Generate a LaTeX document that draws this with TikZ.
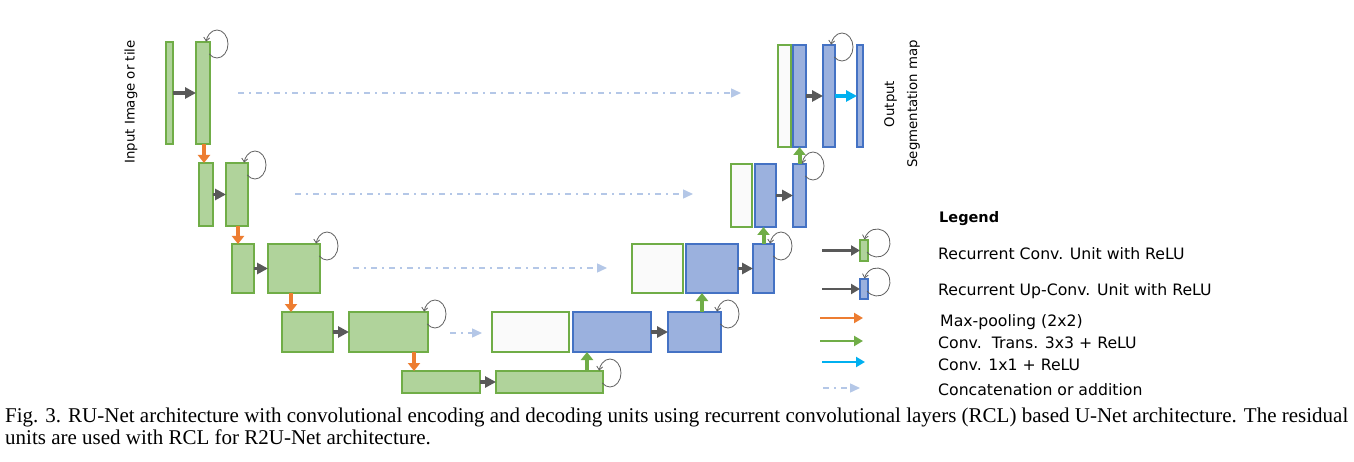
\documentclass[tikz,border=0pt]{standalone}
\usepackage{fontspec}
\setmainfont{DejaVu Sans}
\newfontfamily\capfont{Liberation Serif}
\usetikzlibrary{arrows.meta,fit,calc}
\definecolor{gD}{HTML}{70AD47}
\definecolor{gL}{HTML}{B0D39B}
\definecolor{bD}{HTML}{4472C4}
\definecolor{bL}{HTML}{9BB1DE}
\definecolor{wF}{HTML}{FAFAFA}
\definecolor{aG}{HTML}{595959}
\definecolor{aO}{HTML}{ED7D31}
\definecolor{aC}{HTML}{00B0F0}
\definecolor{aS}{HTML}{B4C7E7}
\definecolor{lpC}{HTML}{606060}
\newcommand\rcl[1]{\draw[loopst] ([shift={(7,-2)}]#1.north east) ++(225:11 and 14) arc[start angle=225,end angle=530,x radius=11,y radius=14];}
\newcommand\rclbig[1]{\draw[loopst] ([shift={(9,-3)}]#1.north east) ++(220:13 and 14) arc[start angle=220,end angle=525,x radius=13,y radius=14];}
\begin{document}
\begin{tikzpicture}[x=1pt,y=1pt,
 box/.style={inner sep=0pt, outer sep=0pt, line width=1.3pt},
 gbox/.style={box, draw=gD, fill=gL},
 bbox/.style={box, draw=bD, fill=bL},
 wbox/.style={box, draw=gD, fill=wF},
 garr/.style={draw=aG, line width=3.4pt, -{Triangle[length=11pt,width=11pt]}},
 oarr/.style={draw=aO, line width=4pt, -{Triangle[length=8pt,width=12pt]}},
 uarr/.style={draw=gD, line width=4pt, -{Triangle[length=8pt,width=12pt]}},
 carr/.style={draw=aC, line width=3.4pt, -{Triangle[length=11pt,width=11pt]}},
 sarr/.style={draw=aS, line width=1.4pt, dash pattern=on 6pt off 5pt on 2pt off 5pt, -{Triangle[length=10pt,width=9pt]}},
 lgarr/.style={line width=2.8pt, -{Triangle[length=9pt,width=10pt]}},
 loopst/.style={draw=lpC, line width=0.8pt, -{Straight Barb[length=3.5pt,width=6pt]}},
 lbl/.style={font=\fontsize{15.7}{19}\selectfont, inner sep=0pt, anchor=base west},
 rlbl/.style={font=\fontsize{13.3}{23}\selectfont, inner sep=0pt, rotate=90, align=center},
 captxt/.style={font=\capfont\fontsize{21}{22}\selectfont, inner sep=0pt, anchor=base west},
]
\fill[white] (0,0) rectangle (1354,-462);
\useasboundingbox (0,0) rectangle (1354,-462);
% encoder
\node[gbox, fit={(166,-42)(173,-144)}] (e1a) {};
\node[gbox, fit={(196,-42)(210,-144)}] (e1b) {};
\node[gbox, fit={(199,-163)(213,-226)}] (e2a) {};
\node[gbox, fit={(226,-163)(248,-226)}] (e2b) {};
\node[gbox, fit={(232,-244)(254,-293)}] (e3a) {};
\node[gbox, fit={(268,-244)(320,-293)}] (e3b) {};
\node[gbox, fit={(282,-312)(333,-352)}] (e4a) {};
\node[gbox, fit={(349,-312)(428,-352)}] (e4b) {};
\node[gbox, fit={(402,-371)(480,-393)}] (e5a) {};
\node[gbox, fit={(496,-371)(603,-393)}] (e5b) {};
% decoder
\node[wbox, fit={(492,-312)(569,-352)}] (d4w) {};
\node[bbox, fit={(573,-312)(651,-352)}] (d4a) {};
\node[bbox, fit={(668,-312)(721,-352)}] (d4b) {};
\node[wbox, fit={(632,-244)(683,-293)}] (d3w) {};
\node[bbox, fit={(686,-244)(738,-293)}] (d3a) {};
\node[bbox, fit={(753,-244)(774,-293)}] (d3b) {};
\node[wbox, fit={(731,-164)(752,-227)}] (d2w) {};
\node[bbox, fit={(755,-164)(776,-227)}] (d2a) {};
\node[bbox, fit={(793,-164)(806,-227)}] (d2b) {};
\node[wbox, fit={(778,-45)(791,-147)}] (d1w) {};
\node[bbox, fit={(793,-45)(806,-147)}] (d1a) {};
\node[bbox, fit={(823,-45)(835,-147)}] (d1b) {};
\node[bbox, fit={(857,-45)(863,-147)}] (out) {};
% recurrent loops
\rcl{e1b}\rcl{e2b}\rcl{e3b}\rcl{e4b}\rcl{e5b}
\rcl{d4b}\rcl{d3b}\rcl{d2b}\rcl{d1b}
% horizontal conv arrows
\draw[garr] (e1a.east) -- (e1b.west);
\draw[garr] (e2a.east) -- (e2b.west);
\draw[garr] (e3a.east) -- (e3b.west);
\draw[garr] (e4a.east) -- (e4b.west);
\draw[garr] (e5a.east) -- (e5b.west);
\draw[garr] (d4a.east) -- (d4b.west);
\draw[garr] (d3a.east) -- (d3b.west);
\draw[garr] (d2a.east) -- (d2b.west);
\draw[garr] (d1a.east) -- (d1b.west);
\draw[carr] (d1b.east) -- (out.west);
% max pooling
\draw[oarr] ([xshift=1]e1b.south) -- ([xshift=1]e1b.south |- e2a.north);
\draw[oarr] ([xshift=1]e2b.south) -- ([xshift=1]e2b.south |- e3a.north);
\draw[oarr] ([xshift=-3]e3b.south) -- ([xshift=-3]e3b.south |- e4a.north);
\draw[oarr] ([xshift=-14]e4b.south east) -- ([xshift=-14]e4b.south east |- e5a.north);
% up conv
\draw[uarr] ([xshift=-16]e5b.north east) -- ([xshift=-16]e5b.north east |- d4a.south);
\draw[uarr] ([xshift=-19]d4b.north east) -- ([xshift=-19]d4b.north east |- d3a.south);
\draw[uarr] (d3b.north) -- (d3b.north |- d2a.south);
\draw[uarr] (d2b.north) -- (d2b.north |- d1a.south);
% skip connections
\coordinate (s1a) at (238,-93);  \coordinate (s1b) at (741,-93);
\coordinate (s2a) at (295,-194); \coordinate (s2b) at (693,-194);
\coordinate (s3a) at (353,-268); \coordinate (s3b) at (607,-268);
\coordinate (s4a) at (450,-333); \coordinate (s4b) at (482,-333);
\draw[sarr] (s1a) -- (s1b);
\draw[sarr] (s2a) -- (s2b);
\draw[sarr] (s3a) -- (s3b);
\draw[sarr] (s4a) -- (s4b);
% side labels
\node[rlbl] (inlbl) at (131,-102) {Input Image or tile};
\node[rlbl] (outlbl) at (902,-104) {Output\\Segmentation map};
% legend
\node[lbl, font=\fontsize{14.5}{19}\selectfont\bfseries] (lgt) at (939,-222.7) {Legend};
\node[gbox, fit={(860,-240)(868,-261)}] (lg1) {};
\node[bbox, fit={(860,-279)(868,-299)}] (lg2) {};
\rclbig{lg1}\rclbig{lg2}
\coordinate (la1) at (822,-250.5);
\coordinate (la2) at (822,-289);
\draw[lgarr, draw=aG] (la1) -- (lg1.west);
\draw[lgarr, draw=aG] (la2) -- (lg2.west);
\coordinate (la3a) at (820,-318); \coordinate (la3b) at (863,-318);
\coordinate (la4a) at (820,-341); \coordinate (la4b) at (863,-341);
\coordinate (la5a) at (822,-362); \coordinate (la5b) at (865,-362);
\coordinate (la6a) at (823,-388); \coordinate (la6b) at (860,-388);
\draw[lgarr, draw=aO] (la3a) -- (la3b);
\draw[lgarr, draw=gD] (la4a) -- (la4b);
\draw[lgarr, draw=aC] (la5a) -- (la5b);
\draw[sarr] (la6a) -- (la6b);
\node[lbl] (t1) at (938,-260) {Recurrent Conv. Unit with ReLU};
\node[lbl] (t2) at (938,-295) {Recurrent Up-Conv. Unit with ReLU};
\node[lbl] (t3) at (940,-326) {Max-pooling (2x2)};
\node[lbl] (t4) at (938,-348.3) {Conv.\ \ Trans. 3x3 + ReLU};
\node[lbl] (t5) at (938,-370) {Conv. 1x1 + ReLU};
\node[lbl] (t6) at (938,-395) {Concatenation or addition};
% caption
\node[captxt] (c1) at (5,-422.5) {Fig. 3. RU-Net architecture with convolutional encoding and decoding units using recurrent convolutional layers (RCL) based U-Net architecture. The residual};
\node[captxt] (c2) at (5,-444.5) {units are used with RCL for R2U-Net architecture.};
\end{tikzpicture}
\end{document}
